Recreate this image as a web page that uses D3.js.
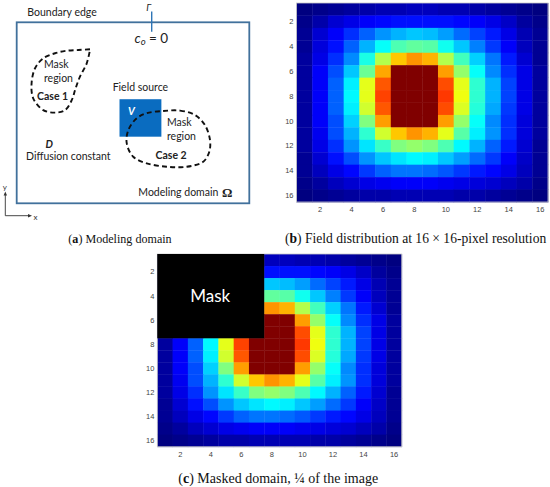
<!DOCTYPE html>
<html>
<head>
<meta charset="utf-8">
<script src="https://cdn.jsdelivr.net/npm/d3@7"></script>
<style>
  html, body { margin: 0; padding: 0; background: #fff; }
  svg { display: block; }
</style>
</head>
<body>
<svg id="fig" width="550" height="487"></svg>
<script>
// ---------------- DATA ----------------
const rowsIdx = d3.range(1, 17);
const colsIdx = d3.range(1, 17);
const tickLabels = [2, 4, 6, 8, 10, 12, 14, 16];
// field values (0..1) for the 16x16 pixel grid, rows top -> bottom
const field = [
  [0.00,0.01,0.02,0.03,0.04,0.05,0.05,0.06,0.06,0.05,0.05,0.04,0.03,0.02,0.01,0.00],
  [0.01,0.04,0.08,0.10,0.12,0.13,0.14,0.14,0.14,0.14,0.13,0.12,0.10,0.07,0.03,0.01],
  [0.02,0.08,0.12,0.17,0.22,0.27,0.30,0.32,0.31,0.28,0.23,0.19,0.15,0.10,0.05,0.02],
  [0.02,0.09,0.14,0.22,0.30,0.38,0.45,0.47,0.46,0.39,0.32,0.25,0.18,0.12,0.06,0.02],
  [0.03,0.10,0.17,0.26,0.40,0.55,0.68,0.73,0.70,0.55,0.44,0.33,0.24,0.15,0.08,0.02],
  [0.03,0.12,0.20,0.32,0.48,0.71,1.00,1.00,1.00,0.72,0.52,0.38,0.26,0.17,0.10,0.03],
  [0.03,0.12,0.22,0.36,0.60,0.79,1.00,1.00,1.00,0.80,0.60,0.42,0.30,0.19,0.10,0.03],
  [0.03,0.12,0.22,0.37,0.60,0.81,1.00,1.00,1.00,0.82,0.61,0.42,0.30,0.19,0.10,0.03],
  [0.03,0.12,0.22,0.36,0.58,0.79,1.00,1.00,1.00,0.80,0.59,0.41,0.29,0.18,0.10,0.03],
  [0.03,0.12,0.20,0.33,0.50,0.72,1.00,1.00,1.00,0.72,0.52,0.38,0.26,0.17,0.09,0.03],
  [0.03,0.11,0.20,0.30,0.42,0.58,0.68,0.73,0.70,0.60,0.46,0.36,0.27,0.17,0.09,0.03],
  [0.03,0.10,0.17,0.27,0.35,0.43,0.50,0.52,0.50,0.45,0.37,0.30,0.22,0.15,0.08,0.02],
  [0.02,0.08,0.14,0.20,0.27,0.32,0.35,0.37,0.36,0.32,0.28,0.23,0.18,0.12,0.07,0.02],
  [0.02,0.06,0.10,0.13,0.18,0.22,0.24,0.24,0.23,0.21,0.18,0.15,0.13,0.10,0.06,0.02],
  [0.01,0.03,0.06,0.08,0.10,0.11,0.12,0.12,0.12,0.11,0.10,0.09,0.08,0.06,0.04,0.01],
  [0.00,0.01,0.02,0.03,0.04,0.04,0.05,0.05,0.05,0.05,0.04,0.04,0.03,0.02,0.01,0.00]
];
// mask covers the top-left quarter (7x7 pixels)
const maskRows = 7;
const maskCols = 7;

// schematic (panel a) shapes in domain units (0..100 across the modeling domain)
const case1Shape = [[31.5,14.9],[26.5,15.3],[21.5,15.7],[16.5,17.1],[11.4,19.9],[7.9,25.4],[6.4,33.7],[7.1,42.0],[11.4,48.5],[16.5,49.9],[20.8,48.5],[23.7,42.9],[25.1,37.4],[27.2,30.0],[30.1,22.7],[31.5,15.3]];
const case2Shape = [[63.0,49.0],[70.2,48.8],[76.6,51.2],[80.9,56.7],[83.1,65.0],[82.8,71.5],[80.2,77.0],[73.1,79.8],[64.5,79.8],[55.9,77.9],[50.1,74.3],[47.3,66.8],[48.0,59.5],[51.6,53.0],[55.9,50.2]];
const sourceBox = [44.2, 42.5, 62.2, 63.2]; // x0, y0, x1, y1 in domain units

// ---------------- SETUP ----------------
const svg = d3.select("#fig");
const jet = d3.scaleLinear()
  .domain([0, 0.125, 0.375, 0.625, 0.875, 1])
  .range(["#000080", "#0000ff", "#00ffff", "#ffff00", "#ff0000", "#800000"])
  .clamp(true);

const sansFont = "Lato, 'Open Sans', 'Liberation Sans', sans-serif";
const serifFont = "'Liberation Serif', 'DejaVu Serif', serif";
const tickFont = "'Liberation Sans', Arial, sans-serif";

// ---------------- PANEL A ----------------
const ga = svg.append("g");
const dx = d3.scaleLinear().domain([0, 100]).range([16.7, 249.3]);
const dy = d3.scaleLinear().domain([0, 100]).range([22.3, 203.3]);

ga.append("text").attr("x", 27.3).attr("y", 15.5)
  .attr("font-family", sansFont).attr("font-size", 10.5).attr("fill", "#222")
  .text("Boundary edge");

ga.append("rect")
  .attr("x", dx(0)).attr("y", dy(0))
  .attr("width", dx(100) - dx(0)).attr("height", dy(100) - dy(0))
  .attr("fill", "none").attr("stroke", "#41719c").attr("stroke-width", 1.8);

// Gamma pointer
ga.append("line").attr("x1", 151.7).attr("x2", 151.7).attr("y1", 11.5).attr("y2", 31.7)
  .attr("stroke", "#2e75b6").attr("stroke-width", 1.4);
ga.append("text").attr("x", 146.3).attr("y", 10.5)
  .attr("font-family", sansFont).attr("font-size", 9.5).attr("font-style", "italic").attr("fill", "#222")
  .text("Γ");

// c_o = 0
const co = ga.append("text").attr("x", 134.5).attr("y", 42.5)
  .attr("font-family", sansFont).attr("font-size", 13.5).attr("fill", "#222");
co.append("tspan").attr("font-style", "italic").text("c");
co.append("tspan").attr("font-style", "italic").attr("font-size", 9.5).attr("dy", 2.5).text("o");
co.append("tspan").attr("dy", -2.5).text(" = 0");

// field source
ga.append("text").attr("x", 112.7).attr("y", 91)
  .attr("font-family", sansFont).attr("font-size", 10.5).attr("fill", "#222").text("Field source");
ga.append("rect")
  .attr("x", dx(sourceBox[0])).attr("y", dy(sourceBox[1]))
  .attr("width", dx(sourceBox[2]) - dx(sourceBox[0])).attr("height", dy(sourceBox[3]) - dy(sourceBox[1]))
  .attr("fill", "#0a6cc0");
ga.append("text").attr("x", 128).attr("y", 115)
  .attr("font-family", sansFont).attr("font-size", 10.5).attr("font-style", "italic").attr("font-weight", "bold")
  .attr("fill", "#fff").text("V");

// dashed mask regions
const shapeLine = d3.line().x(d => dx(d[0])).y(d => dy(d[1]));
ga.append("path").datum(case1Shape)
  .attr("d", shapeLine.curve(d3.curveCatmullRom.alpha(0.5)))
  .attr("fill", "none").attr("stroke", "#111").attr("stroke-width", 1.9).attr("stroke-dasharray", "5,3.2");
ga.append("path").datum(case2Shape)
  .attr("d", d3.line().x(d => dx(d[0])).y(d => dy(d[1])).curve(d3.curveCatmullRomClosed.alpha(0.5)))
  .attr("fill", "none").attr("stroke", "#111").attr("stroke-width", 1.9).attr("stroke-dasharray", "5,3.2");

function label(x, y, t, opts = {}) {
  return ga.append("text").attr("x", x).attr("y", y)
    .attr("font-family", opts.family || sansFont).attr("font-size", opts.size || 10.5)
    .attr("font-weight", opts.weight || "normal").attr("font-style", opts.style || "normal")
    .attr("fill", opts.fill || "#222").text(t);
}
label(44, 68, "Mask");
label(44, 81.5, "region");
label(37, 100, "Case 1", { weight: "bold" });
label(167, 126, "Mask");
label(167, 139.5, "region");
label(155.5, 159, "Case 2", { weight: "bold" });
label(45.5, 148, "D", { weight: "bold", style: "italic" });
label(26, 160, "Diffusion constant");
label(138.3, 195.5, "Modeling domain");
label(222, 196.5, "Ω", { family: serifFont, weight: "bold", size: 13 });

// axes indicator
const axG = ga.append("g").attr("stroke", "#333").attr("stroke-width", 0.9);
axG.append("line").attr("x1", 5.3).attr("x2", 5.3).attr("y1", 215.7).attr("y2", 193.5);
axG.append("line").attr("x1", 5.3).attr("x2", 30).attr("y1", 215.7).attr("y2", 215.7);
ga.append("path").attr("d", "M5.3,191.5 L3.6,195.5 L7,195.5 Z").attr("fill", "#333");
ga.append("path").attr("d", "M32,215.7 L28,214 L28,217.4 Z").attr("fill", "#333");
label(2.8, 189.5, "y", { size: 8, fill: "#333" });
label(33.5, 219.5, "x", { size: 8, fill: "#333" });

// ---------------- HEATMAPS ----------------
function heatmap(g, x0, x1, y0, y1, masked) {
  const x = d3.scaleBand().domain(colsIdx).range([x0, x1]);
  const y = d3.scaleBand().domain(rowsIdx).range([y0, y1]);
  const cells = [];
  field.forEach((row, ri) => row.forEach((v, ci) => cells.push({ r: rowsIdx[ri], c: colsIdx[ci], v })));
  g.append("g").selectAll("rect").data(cells).join("rect")
    .attr("x", d => x(d.c)).attr("y", d => y(d.r))
    .attr("width", x.bandwidth() + 0.4).attr("height", y.bandwidth() + 0.4)
    .attr("fill", d => jet(d.v));
  g.append("rect").attr("x", x0).attr("y", y0).attr("width", x1 - x0).attr("height", y1 - y0)
    .attr("fill", "none").attr("stroke", "#c8c8c8").attr("stroke-width", 0.8);
  if (masked) {
    g.append("rect")
      .attr("x", x(colsIdx[0])).attr("y", y(rowsIdx[0]))
      .attr("width", x.bandwidth() * maskCols).attr("height", y.bandwidth() * maskRows)
      .attr("fill", "#000");
    g.append("text")
      .attr("x", x(colsIdx[0]) + x.bandwidth() * maskCols / 2 - 0.5)
      .attr("y", y(rowsIdx[0]) + y.bandwidth() * maskRows / 2 + 6)
      .attr("text-anchor", "middle")
      .attr("font-family", sansFont).attr("font-size", 17).attr("fill", "#fff").text("Mask");
  }
  const ax = g.append("g").attr("transform", `translate(0,${y1})`)
    .call(d3.axisBottom(x).tickValues(tickLabels).tickSize(0).tickPadding(5));
  const ay = g.append("g").attr("transform", `translate(${x0},0)`)
    .call(d3.axisLeft(y).tickValues(tickLabels).tickSize(0).tickPadding(3));
  [ax, ay].forEach(a => {
    a.select(".domain").remove();
    a.selectAll("text").attr("font-family", tickFont).attr("font-size", 7.5).attr("fill", "#444");
  });
}
heatmap(svg.append("g"), 296.5, 548, 3, 202, false);
heatmap(svg.append("g"), 157.3, 401.7, 254, 446.7, true);

// ---------------- CAPTIONS ----------------
function caption(x, y, letter, rest, targetW) {
  const t = svg.append("text").attr("x", x).attr("y", y)
    .attr("font-family", serifFont).attr("font-size", 12).attr("fill", "#111");
  t.append("tspan").text("(");
  t.append("tspan").attr("font-weight", "bold").text(letter);
  t.append("tspan").text(")" + rest);
  const w = t.node().getComputedTextLength();
  t.attr("font-size", 12 * targetW / w);
}
caption(68.3, 242.5, "a", " Modeling domain", 103.5);
caption(285, 242.5, "b", " Field distribution at 16 × 16-pixel resolution", 261.5);
caption(178.3, 483, "c", " Masked domain, ¼ of the image", 200);
</script>
</body>
</html>
